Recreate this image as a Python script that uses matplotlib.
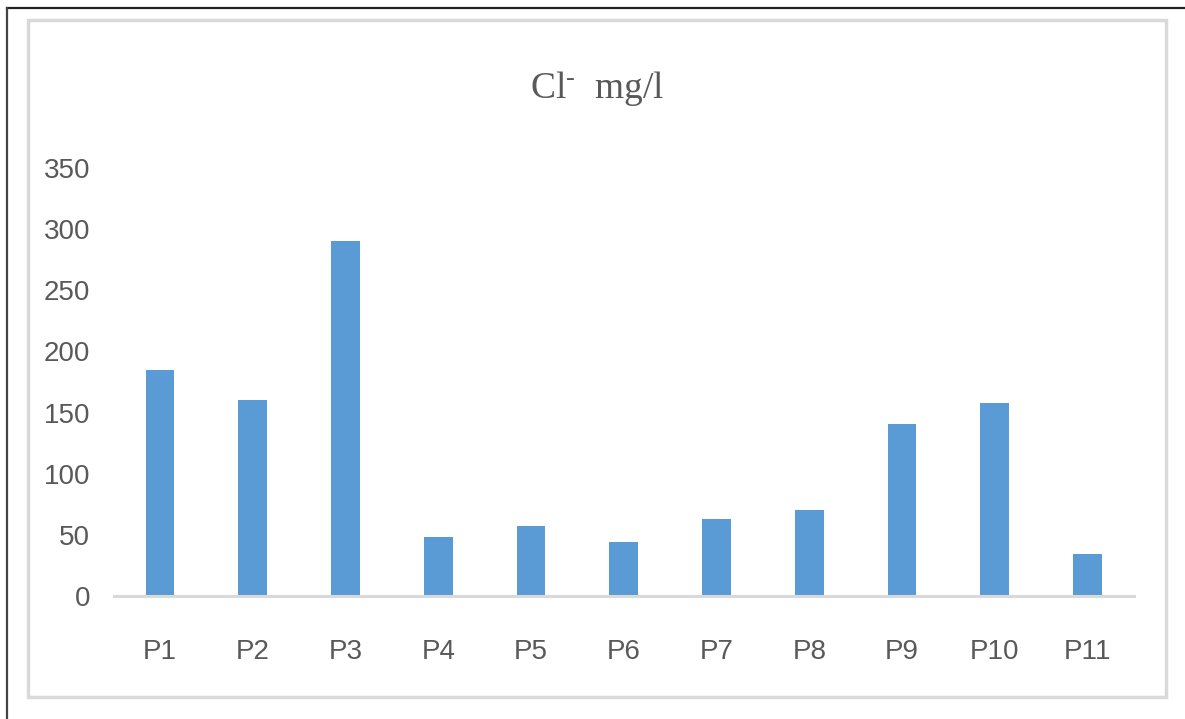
import matplotlib.pyplot as plt
from matplotlib.patches import Rectangle
from matplotlib.lines import Line2D

# dati
punti = ["P1", "P2", "P3", "P4", "P5", "P6", "P7", "P8", "P9", "P10", "P11"]
cloruri = [185, 160, 290, 48, 57, 44, 63, 70, 141, 158, 34]
tick_y = [0, 50, 100, 150, 200, 250, 300, 350]

plt.rcParams["mathtext.fontset"] = "custom"
plt.rcParams["mathtext.rm"] = "Liberation Serif"
plt.rcParams["mathtext.it"] = "Liberation Serif"

W, H = 1185, 719
fig = plt.figure(figsize=(W / 100, H / 100), dpi=100)
fig.patch.set_facecolor("white")

# cornice esterna (nera solo sopra e a sinistra)
fig.add_artist(Line2D([7 / W, 1], [1 - 8 / H, 1 - 8 / H], color="#222222", lw=1.6))
fig.add_artist(Line2D([7 / W, 7 / W], [0, 1 - 8 / H], color="#444444", lw=1.6))
# riquadro grigio del grafico
fig.add_artist(Rectangle((28 / W, 1 - 697 / H), (1166 - 28) / W, (697 - 20) / H,
                         fill=False, edgecolor="#d9d9d9", lw=2.5))

ax = fig.add_axes([113.6 / W, 1 - 596 / H, (1134 - 113.6) / W, (596 - 168) / H])
x = range(len(punti))
ax.bar(x, cloruri, width=0.31, color="#5b9bd5", zorder=2)

ax.set_xlim(-0.5, len(punti) - 0.5)
ax.set_ylim(0, 350)
ax.set_yticks(tick_y)
ax.set_xticks(list(x))
ax.set_xticklabels(punti)

font_assi = ["Liberation Sans", "DejaVu Sans"]
for lab in ax.get_xticklabels() + ax.get_yticklabels():
    lab.set_family(font_assi)
    lab.set_fontsize(20)
    lab.set_color("#595959")

ax.tick_params(axis="both", length=0)
ax.tick_params(axis="y", pad=17)
ax.tick_params(axis="x", pad=31)

for lato in ["top", "right", "left"]:
    ax.spines[lato].set_visible(False)
ax.spines["bottom"].set_color("#d9d9d9")
ax.spines["bottom"].set_linewidth(2.2)
ax.patch.set_alpha(0)

# titolo
fig.text(597 / W, 1 - 88 / H, r"Cl$^{\text{-}}$  mg/l", ha="center", va="center",
         family=["Liberation Serif", "DejaVu Serif"], fontsize=27, color="#595959")

fig.savefig("out.png", dpi=100)
